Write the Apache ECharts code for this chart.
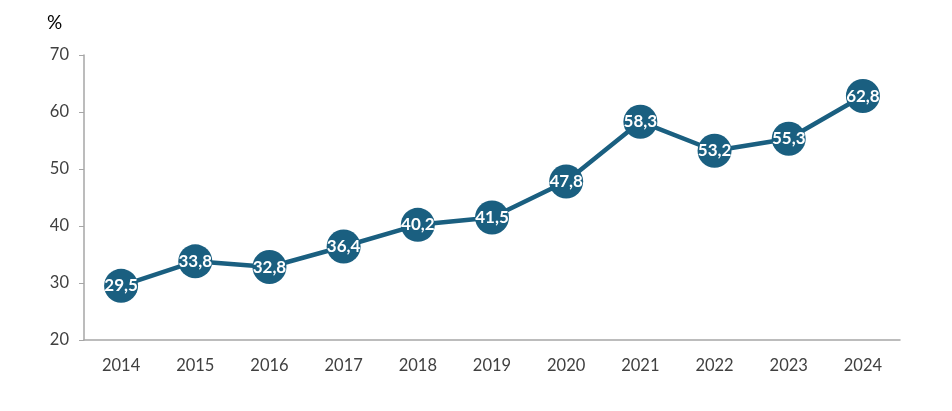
<!DOCTYPE html>
<html><head><meta charset="utf-8">
<script src="https://cdn.jsdelivr.net/npm/echarts@6/dist/echarts.min.js"></script>
<style>html,body{margin:0;padding:0;background:#fff}#c{width:952px;height:411px}</style>
</head><body><div id="c"></div>
<script>
const categories = ['2014','2015','2016','2017','2018','2019','2020','2021','2022','2023','2024'];
const values = [29.5, 33.8, 32.8, 36.4, 40.2, 41.5, 47.8, 58.3, 53.2, 55.3, 62.8];
const yTicks = [20, 30, 40, 50, 60, 70];
const unitLabel = '%';

const chart = echarts.init(document.getElementById('c'), null, {renderer:'canvas'});
chart.setOption({
  animation: false,
  graphic: [{type:'text', left: 47, top: 13, style:{text: unitLabel, fontSize: 19, fill:'#000', fontFamily:'Lato, sans-serif'}}],
  grid: {left: 84, right: 52, top: 55, bottom: 71, containLabel: false},
  xAxis: {
    type: 'category', data: categories, boundaryGap: true,
    axisLine: {lineStyle: {color: '#a6a6a6', width: 1.5}},
    axisTick: {show: false},
    axisLabel: {color: '#404040', fontSize: 16.5, margin: 17, fontFamily: 'Lato, sans-serif'}
  },
  yAxis: {
    type: 'value', min: yTicks[0], max: yTicks[yTicks.length-1], interval: 10,
    axisLine: {show: true, lineStyle: {color: '#a6a6a6', width: 1.5}},
    axisTick: {show: true, length: 5, lineStyle: {color: '#a6a6a6'}},
    splitLine: {show: false},
    axisLabel: {color: '#404040', fontSize: 16.5, margin: 15, fontFamily: 'Lato, sans-serif'}
  },
  series: [{
    type: 'line', data: values,
    symbol: 'circle', symbolSize: 34,
    lineStyle: {color: '#1a5f80', width: 4.5},
    itemStyle: {color: '#1a5f80'},
    label: {
      show: true, position: 'inside', color: '#fff', fontWeight: 'bold', fontSize: 17,
      fontFamily: 'Lato, sans-serif',
      formatter: p => p.value.toFixed(1).replace('.', ',')
    }
  }]
});
</script></body></html>
